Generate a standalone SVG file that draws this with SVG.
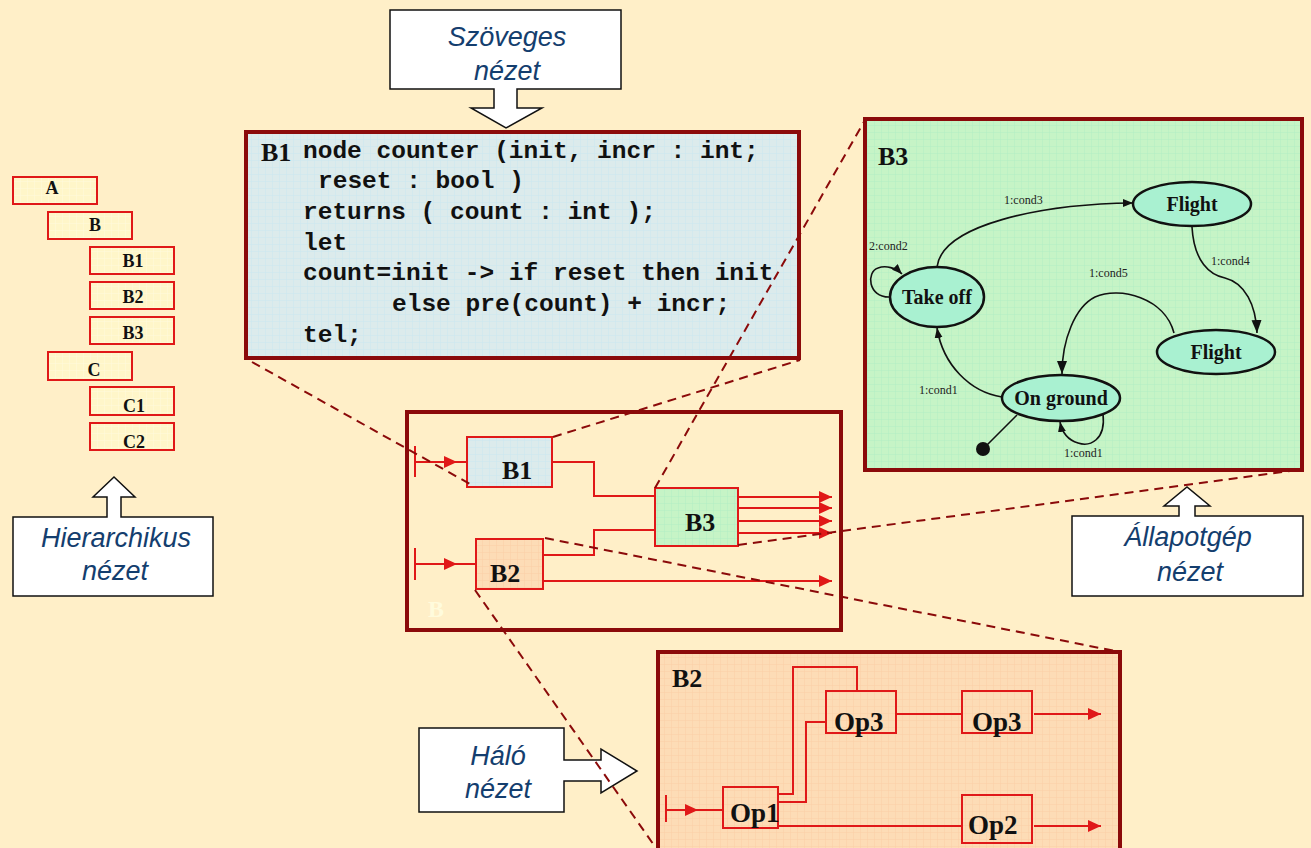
<svg xmlns="http://www.w3.org/2000/svg" width="1311" height="848" viewBox="0 0 1311 848">
  <style>
    .hbox { fill: url(#gridYellow); stroke: #E01818; stroke-width: 2; }
    .hlbl { font-family: "Liberation Serif", serif; font-weight: bold; font-size: 18px; fill: #111; text-anchor: middle; }
    .callout { fill: #FFFFFF; stroke: #111; stroke-width: 1.5; }
    .ctext { font-family: "Liberation Sans", sans-serif; font-style: italic; font-size: 27px; fill: #143E6E; text-anchor: middle; }
    .frame { stroke: #8B0A0A; stroke-width: 4; }
    .code { font-family: "Liberation Mono", monospace; font-weight: bold; font-size: 24.5px; fill: #111; }
    .title { font-family: "Liberation Serif", serif; font-weight: bold; font-size: 26px; fill: #111; }
    .blk { stroke: #E01818; stroke-width: 2; }
    .blbl { font-family: "Liberation Serif", serif; font-weight: bold; font-size: 26px; fill: #111; }
    .oplbl { font-family: "Liberation Serif", serif; font-weight: bold; font-size: 27px; fill: #111; }
    .wire { fill: none; stroke: #E01818; stroke-width: 2; }
    .state { fill: #A9F1D1; stroke: #111; stroke-width: 2.5; }
    .slbl { font-family: "Liberation Serif", serif; font-weight: bold; font-size: 20px; fill: #111; text-anchor: middle; }
    .tr { fill: none; stroke: #111; stroke-width: 1.6; }
    .tlbl { font-family: "Liberation Serif", serif; font-size: 12px; fill: #222; }
    .zoomline { fill: none; stroke: #8B0A0A; stroke-width: 2; stroke-dasharray: 9 6; }
  </style>
  <defs>
    <pattern id="gridYellow" width="7" height="7" patternUnits="userSpaceOnUse">
      <rect width="7" height="7" fill="#FFF6C9"/>
      <path d="M7 0V7M0 7H7" stroke="#FFFBDD" stroke-width="1"/>
    </pattern>
    <pattern id="gridBlue" width="7" height="7" patternUnits="userSpaceOnUse">
      <rect width="7" height="7" fill="#DCEBEC"/>
      <path d="M7 0V7M0 7H7" stroke="#CBE7F0" stroke-width="1"/>
    </pattern>
    <pattern id="gridGreen" width="7" height="7" patternUnits="userSpaceOnUse">
      <rect width="7" height="7" fill="#C6F4C6"/>
      <path d="M7 0V7M0 7H7" stroke="#B2EEC4" stroke-width="1"/>
    </pattern>
    <pattern id="gridPeach" width="7" height="7" patternUnits="userSpaceOnUse">
      <rect width="7" height="7" fill="#FDDCB6"/>
      <path d="M7 0V7M0 7H7" stroke="#FBCFA6" stroke-width="1"/>
    </pattern>
    <marker id="redArrow" markerUnits="userSpaceOnUse" markerWidth="14" markerHeight="12" refX="13" refY="6" orient="auto">
      <path d="M0,0 L13,6 L0,12 Z" fill="#E01818"/>
    </marker>
    <marker id="blkArrow" markerUnits="userSpaceOnUse" markerWidth="11" markerHeight="9" refX="10" refY="4" orient="auto">
      <path d="M0,0 L10,4 L0,8 Z" fill="#111"/>
    </marker>
    <marker id="blkArrowBig" markerUnits="userSpaceOnUse" markerWidth="14" markerHeight="11" refX="13" refY="5" orient="auto">
      <path d="M0,0 L13,5 L0,10 Z" fill="#111"/>
    </marker>
  </defs>

  <!-- page -->
  <rect width="1311" height="848" fill="#FFEFC8"/>

  <!-- hierarchy tree -->
  <g id="hier-A"><rect class="hbox" x="13" y="177" width="84" height="27"/><text class="hlbl" x="52" y="194">A</text></g>
  <g id="hier-B"><rect class="hbox" x="48" y="212" width="84" height="27"/><text class="hlbl" x="95" y="231">B</text></g>
  <g id="hier-B1"><rect class="hbox" x="90" y="247" width="84" height="27"/><text class="hlbl" x="133" y="267">B1</text></g>
  <g id="hier-B2"><rect class="hbox" x="90" y="282" width="84" height="27"/><text class="hlbl" x="133" y="303">B2</text></g>
  <g id="hier-B3"><rect class="hbox" x="90" y="317" width="84" height="27"/><text class="hlbl" x="133" y="339">B3</text></g>
  <g id="hier-C"><rect class="hbox" x="48" y="352" width="84" height="28"/><text class="hlbl" x="94" y="376">C</text></g>
  <g id="hier-C1"><rect class="hbox" x="90" y="387" width="84" height="28"/><text class="hlbl" x="134" y="412">C1</text></g>
  <g id="hier-C2"><rect class="hbox" x="90" y="423" width="84" height="27"/><text class="hlbl" x="134" y="448">C2</text></g>

  <!-- callouts -->
  <g id="callout-hierarchikus">
    <path class="callout" d="M13,517 H107 V497 H93 L114,477 L135,497 H121 V517 H213 V596 H13 Z"/>
    <text class="ctext" x="116" y="547">Hierarchikus</text>
    <text class="ctext" x="115" y="580">nézet</text>
  </g>
  <g id="callout-szoveges">
    <path class="callout" d="M390,10 H621 V89 H517 V108 H542 L506,128 L471,108 H494 V89 H390 Z"/>
    <text class="ctext" x="507" y="46">Szöveges</text>
    <text class="ctext" x="507" y="80">nézet</text>
  </g>
  <g id="callout-allapotgep">
    <path class="callout" d="M1072,516 H1179 V506 H1164 L1187,487 L1210,506 H1195 V516 H1303 V596 H1072 Z"/>
    <text class="ctext" x="1188" y="546">Állapotgép</text>
    <text class="ctext" x="1190" y="581">nézet</text>
  </g>
  <g id="callout-halo">
    <path class="callout" d="M419,728 H564 V760 H601 V749 L637,771 L601,793 V781 H564 V812 H419 Z"/>
    <text class="ctext" x="498" y="765">Háló</text>
    <text class="ctext" x="498" y="798">nézet</text>
  </g>

  <!-- textual view of B1 -->
  <g id="text-view">
    <rect class="frame" x="246" y="132" width="553" height="226" fill="url(#gridBlue)"/>
    <text class="title" x="261" y="161">B1</text>
    <text class="code" x="303" y="158">node counter (init, incr : int;</text>
    <text class="code" x="318" y="188">reset : bool )</text>
    <text class="code" x="303" y="219">returns ( count : int );</text>
    <text class="code" x="303" y="250">let</text>
    <text class="code" x="303" y="280">count=init -&gt; if reset then init</text>
    <text class="code" x="392" y="311">else pre(count) + incr;</text>
    <text class="code" x="303" y="342">tel;</text>
  </g>

  <!-- state machine view of B3 -->
  <g id="statemachine-view">
    <rect class="frame" x="865" y="119" width="437" height="351" fill="url(#gridGreen)"/>
    <text class="title" x="878" y="165">B3</text>
  </g>
  <g id="state-flight-top"><ellipse class="state" cx="1192" cy="204" rx="59" ry="22"/><text class="slbl" x="1192" y="211">Flight</text></g>
  <g id="state-takeoff"><ellipse class="state" cx="937" cy="297" rx="47" ry="30"/><text class="slbl" x="937" y="304">Take off</text></g>
  <g id="state-flight-low"><ellipse class="state" cx="1216" cy="352" rx="59" ry="22"/><text class="slbl" x="1216" y="359">Flight</text></g>
  <g id="state-onground"><ellipse class="state" cx="1061" cy="398" rx="59" ry="23"/><text class="slbl" x="1061" y="405">On ground</text></g>
  <g id="state-initial"><circle cx="983" cy="449" r="7" fill="#111"/></g>

  <g id="transitions">
    <path class="tr" d="M937,267 C942,225 1040,204 1133,203" marker-end="url(#blkArrow)"/>
    <path class="tr" d="M1192,227 C1194,262 1210,275 1225,278 C1245,283 1256,305 1257,333" marker-end="url(#blkArrowBig)"/>
    <path class="tr" d="M1174,333 C1165,298 1120,286 1095,297 C1075,307 1062,340 1062,374" marker-end="url(#blkArrowBig)"/>
    <path class="tr" d="M1002,397 C970,392 943,365 937,328" marker-end="url(#blkArrow)"/>
    <path class="tr" d="M889,297 C868,297 866,272 878,268 C886,265 896,268 902,274" marker-end="url(#blkArrow)"/>
    <path class="tr" d="M1103,414 C1106,440 1090,447 1078,443 C1068,440 1062,432 1060,422" marker-end="url(#blkArrow)"/>
    <path class="tr" d="M983,449 L1017,415"/>
    <text class="tlbl" x="1004" y="204">1:cond3</text>
    <text class="tlbl" x="869" y="250">2:cond2</text>
    <text class="tlbl" x="1211" y="265">1:cond4</text>
    <text class="tlbl" x="1089" y="277">1:cond5</text>
    <text class="tlbl" x="919" y="394">1:cond1</text>
    <text class="tlbl" x="1064" y="457">1:cond1</text>
  </g>

  <!-- block view of B -->
  <g id="block-B">
    <rect class="frame" x="407" y="412" width="434" height="218" fill="none"/>
    <text x="428" y="617" font-family="Liberation Serif, serif" font-weight="bold" font-size="24" fill="#FFFBDC">B</text>
  </g>
  <g id="block-B1"><rect class="blk" x="467" y="437" width="85" height="50" fill="url(#gridBlue)"/><text class="blbl" x="502" y="479">B1</text></g>
  <g id="block-B3"><rect class="blk" x="655" y="488" width="83" height="58" fill="url(#gridGreen)"/><text class="blbl" x="685" y="531">B3</text></g>
  <g id="block-B2"><rect class="blk" x="476" y="539" width="67" height="50" fill="url(#gridPeach)"/><text class="blbl" x="490" y="582">B2</text></g>

  <!-- net view of B2 -->
  <g id="net-B2">
    <rect class="frame" x="658" y="652" width="462" height="220" fill="url(#gridPeach)"/>
    <text class="title" x="672" y="687">B2</text>
  </g>
  <g id="op1"><rect class="blk" x="723" y="787" width="55" height="41" fill="none"/><text class="oplbl" x="730" y="822">Op1</text></g>
  <g id="op3a"><rect class="blk" x="826" y="691" width="70" height="42" fill="none"/><text class="oplbl" x="834" y="731">Op3</text></g>
  <g id="op3b"><rect class="blk" x="962" y="691" width="70" height="42" fill="none"/><text class="oplbl" x="972" y="731">Op3</text></g>
  <g id="op2"><rect class="blk" x="962" y="795" width="70" height="48" fill="none"/><text class="oplbl" x="968" y="834">Op2</text></g>

  <g id="wires">
    <!-- B level -->
    <path class="wire" d="M415,446 V477"/>
    <path class="wire" d="M415,462 H457" marker-end="url(#redArrow)"/>
    <path class="wire" d="M456,462 H467"/>
    <path class="wire" d="M415,548 V580"/>
    <path class="wire" d="M415,564 H457" marker-end="url(#redArrow)"/>
    <path class="wire" d="M456,564 H476"/>
    <path class="wire" d="M552,462 H594 V496 H655"/>
    <path class="wire" d="M543,555 H594 V530 H655"/>
    <path class="wire" d="M738,497 H832" marker-end="url(#redArrow)"/>
    <path class="wire" d="M738,508 H832" marker-end="url(#redArrow)"/>
    <path class="wire" d="M738,521 H832" marker-end="url(#redArrow)"/>
    <path class="wire" d="M738,533 H832" marker-end="url(#redArrow)"/>
    <path class="wire" d="M543,581 H832" marker-end="url(#redArrow)"/>
    <!-- B2 level -->
    <path class="wire" d="M666,795 V822"/>
    <path class="wire" d="M666,810 H698" marker-end="url(#redArrow)"/>
    <path class="wire" d="M697,810 H723"/>
    <path class="wire" d="M778,794 H793 V667 H857 V691"/>
    <path class="wire" d="M778,802 H806 V722 H826"/>
    <path class="wire" d="M896,714 H962"/>
    <path class="wire" d="M1034,714 H1101" marker-end="url(#redArrow)"/>
    <path class="wire" d="M778,826 H962"/>
    <path class="wire" d="M1034,826 H1101" marker-end="url(#redArrow)"/>
  </g>

  <!-- zoom guides -->
  <g id="zoom-guides">
    <path class="zoomline" d="M252,362 L470,484"/>
    <path class="zoomline" d="M553,437 L800,360"/>
    <path class="zoomline" d="M655,488 L865,120"/>
    <path class="zoomline" d="M738,545 L1290,471"/>
    <path class="zoomline" d="M545,538 L1120,652"/>
    <path class="zoomline" d="M475,590 L656,848"/>
  </g>
</svg>
